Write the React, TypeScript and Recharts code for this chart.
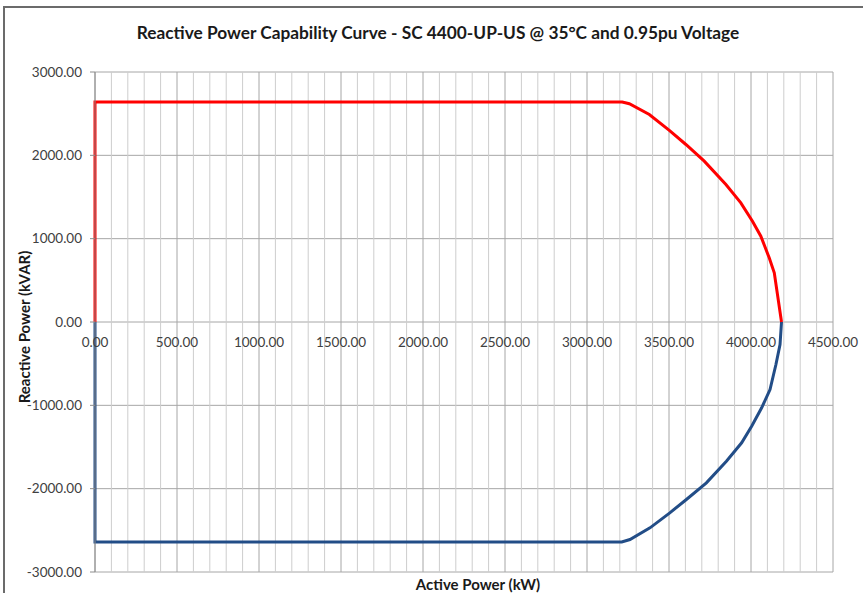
import React from "react";
import {
  LineChart,
  Line,
  XAxis,
  YAxis,
  CartesianGrid,
  ReferenceLine,
} from "recharts";

// capacitive side (upper curve), kW / kVAR
const upperP = [0, 0, 3215, 3258, 3380, 3502, 3603, 3715, 3847, 3938, 4009, 4060, 4111, 4142, 4186];
const upperQ = [0, 2640, 2640, 2620, 2490, 2300, 2130, 1930, 1650, 1430, 1210, 1030, 770, 590, 0];

// inductive side (lower curve)
const lowerP = [0, 0, 3212, 3262, 3384, 3505, 3606, 3728, 3850, 3943, 4004, 4065, 4116, 4152, 4177, 4186];
const lowerQ = [0, -2640, -2640, -2610, -2470, -2290, -2130, -1930, -1670, -1450, -1250, -1030, -810, -510, -270, 0];

const xTicks = [0, 500, 1000, 1500, 2000, 2500, 3000, 3500, 4000, 4500];
const xMinor = [
  100, 200, 300, 400, 600, 700, 800, 900, 1100, 1200, 1300, 1400, 1600, 1700, 1800, 1900,
  2100, 2200, 2300, 2400, 2600, 2700, 2800, 2900, 3100, 3200, 3300, 3400, 3600, 3700, 3800, 3900,
  4100, 4200, 4300, 4400,
];
const yTicks = [-3000, -2000, -1000, 0, 1000, 2000, 3000];

const upperData = upperP.map((p, i) => ({ p, q: upperQ[i] }));
const lowerData = lowerP.map((p, i) => ({ p, q: lowerQ[i] }));

const W = 863;
const H = 593;
const margin = { top: 72, right: 30, bottom: 0, left: 18 };
const xAxisHeight = 21;
const plotHeight = H - margin.top - margin.bottom - xAxisHeight;

const font = "Lato, 'DejaVu Sans', sans-serif";

// x labels sit under the zero line, not at the bottom of the plot
const XTick = (props: any) => {
  const { x, y, payload } = props;
  return (
    <text
      x={x}
      y={y - plotHeight / 2 + 17}
      textAnchor="middle"
      fontSize={13.5}
      fontFamily={font}
      fill="#404040"
    >
      {Number(payload.value).toFixed(2)}
    </text>
  );
};

export default function App() {
  return (
    <div
      style={{
        position: "absolute",
        left: 0,
        top: 0,
        width: W,
        height: H,
        background: "#fff",
        overflow: "hidden",
      }}
    >
      <div
        style={{
          position: "absolute",
          left: 3,
          top: 6,
          width: W,
          height: H,
          borderTop: "2px solid #6b6b6b",
          borderLeft: "2px solid #6b6b6b",
        }}
      />
      <div
        style={{
          position: "absolute",
          left: 0,
          top: 22,
          width: 876,
          textAlign: "center",
          fontFamily: font,
          fontWeight: 700,
          fontSize: 17.3,
          color: "#1a1a1a",
        }}
      >
        Reactive Power Capability Curve - SC 4400-UP-US @ 35°C and 0.95pu Voltage
      </div>
      <div style={{ position: "absolute", left: 0, top: 0 }}>
        <LineChart width={W} height={H} margin={margin}>
          <CartesianGrid stroke="#a6a6a6" strokeWidth={1} />
          {xMinor.map((v) => (
            <ReferenceLine key={v} x={v} stroke="#cdcdcd" strokeWidth={1} />
          ))}
          <XAxis
            type="number"
            dataKey="p"
            domain={[0, 4500]}
            ticks={xTicks}
            interval={0}
            height={xAxisHeight}
            axisLine={false}
            tickLine={false}
            tick={<XTick />}
            label={{
              value: "Active Power (kW)",
              position: "insideBottom",
              offset: 3,
              dx: 14,
              fontSize: 15,
              fontWeight: 700,
              fontFamily: font,
              fill: "#1a1a1a",
            }}
          />
          <YAxis
            type="number"
            domain={[-3000, 3000]}
            ticks={yTicks}
            interval={0}
            width={77}
            axisLine={{ stroke: "#8c8c8c" }}
            tickLine={{ stroke: "#8c8c8c" }}
            tickSize={5}
            tickMargin={8}
            tickFormatter={(v: number) => v.toFixed(2)}
            tick={{ fontSize: 13.5, fontFamily: font, fill: "#404040" }}
            label={{
              value: "Reactive Power (kVAR)",
              angle: -90,
              position: "insideLeft",
              offset: 7,
              dy: 5,
              fontSize: 15,
              fontWeight: 700,
              fontFamily: font,
              fill: "#1a1a1a",
              style: { textAnchor: "middle" },
            }}
          />
          <Line
            data={lowerData}
            dataKey="q"
            type="linear"
            stroke="#224d87"
            strokeWidth={3}
            dot={false}
            isAnimationActive={false}
          />
          <Line
            data={upperData}
            dataKey="q"
            type="linear"
            stroke="#ff0000"
            strokeWidth={3}
            dot={false}
            isAnimationActive={false}
          />
        </LineChart>
      </div>
    </div>
  );
}
